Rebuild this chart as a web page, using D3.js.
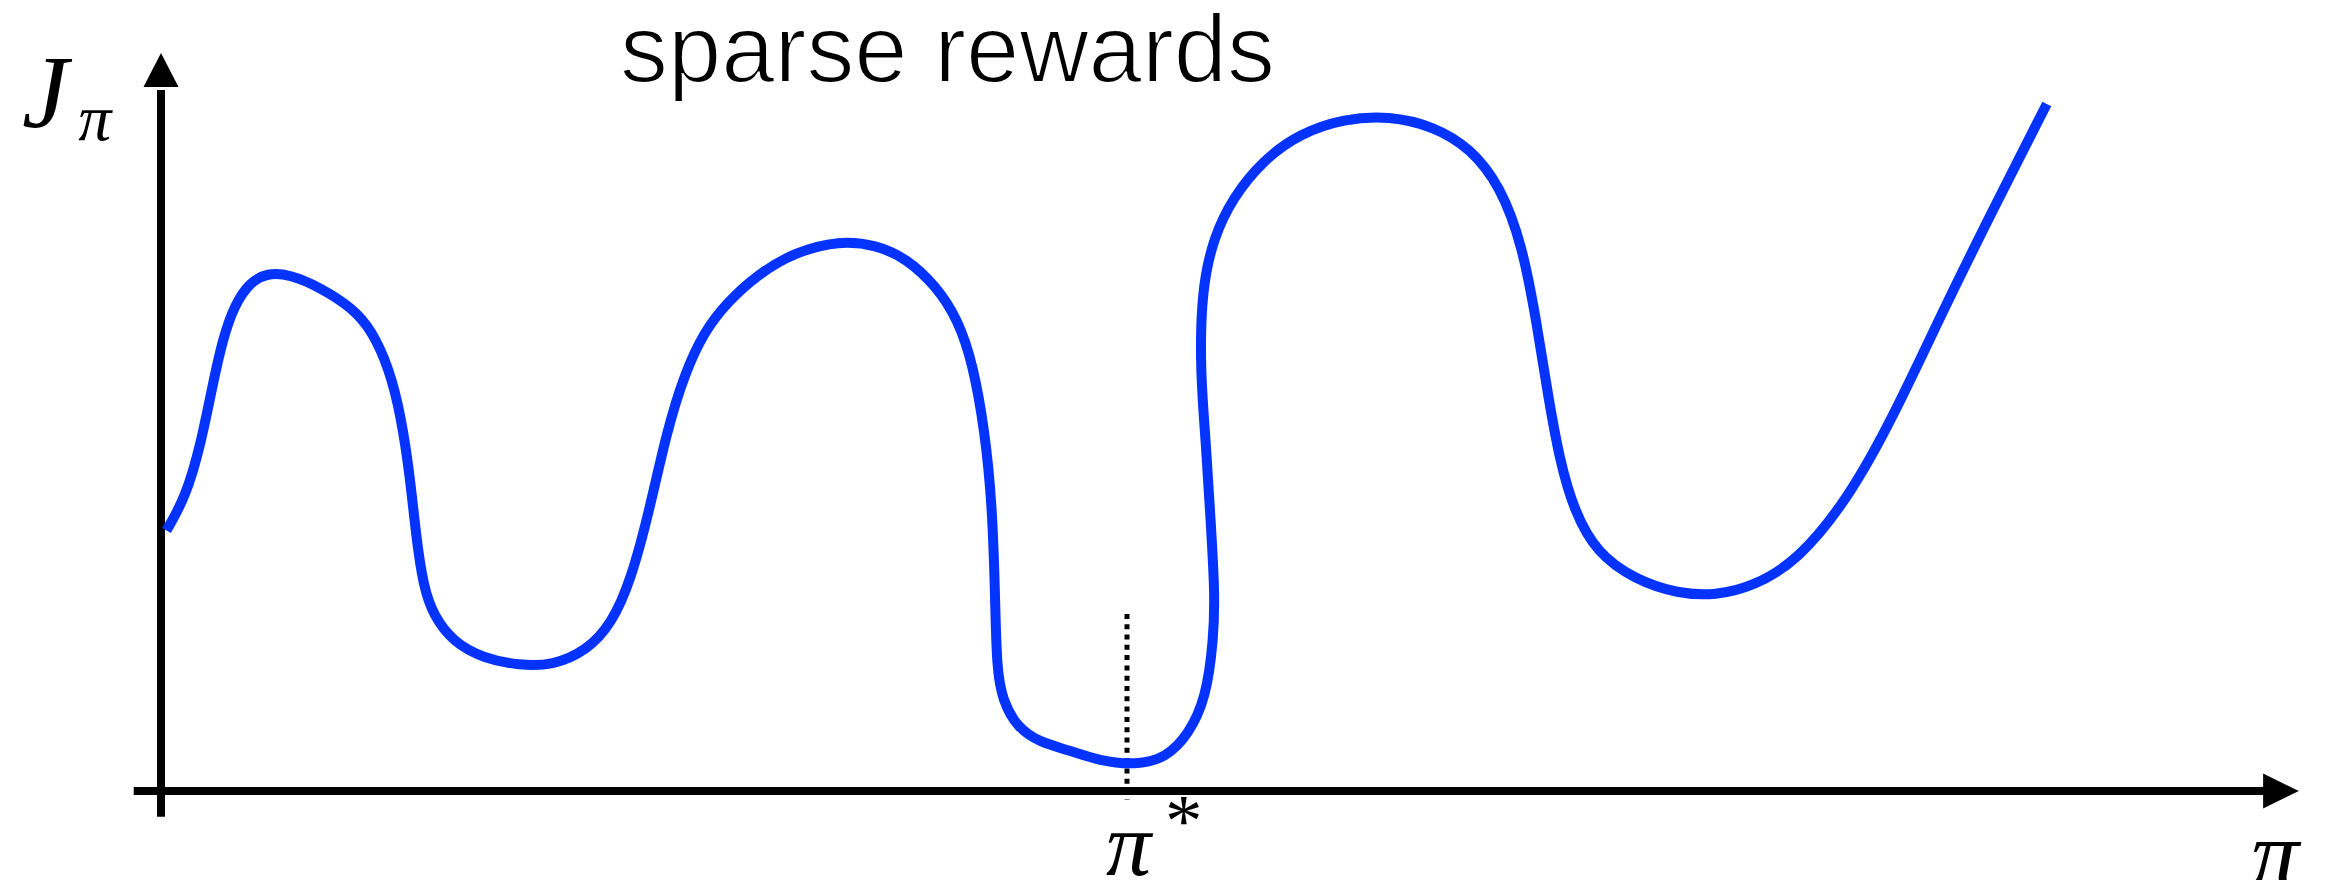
<!DOCTYPE html>
<html>
<head>
<meta charset="utf-8">
<script src="https://cdn.jsdelivr.net/npm/d3@7"></script>
<style>
  html, body { margin: 0; padding: 0; background: #fff; overflow: hidden; }
  svg { display: block; }
</style>
</head>
<body>
<svg id="chart" width="2329" height="880"></svg>
<script>
// Policy coordinate (horizontal) and return J (vertical) along the sketched landscape
const piVals = [0.26, 1.17, 1.88, 2.45, 2.94, 3.51, 4.22, 5.06, 6.13, 7.54, 9.10, 10.02, 10.86, 11.43,
  11.85, 12.14, 12.49, 12.99, 13.91, 15.32, 17.09, 18.64, 20.27, 21.47, 22.39, 23.24, 24.09, 24.94,
  25.86, 26.92, 28.41, 30.17, 32.30, 34.06, 35.48, 36.89, 37.95, 38.66, 39.23, 39.58, 39.72, 39.79,
  40.08, 40.78, 41.84, 43.26, 44.67, 46.44, 47.86, 48.92, 49.77, 50.12, 50.19, 49.98, 49.77, 49.48,
  49.55, 50.12, 51.04, 52.45, 54.22, 56.34, 58.47, 60.59, 62.36, 63.77, 64.83, 65.54, 66.03, 66.60,
  67.31, 68.37, 70.14, 72.26, 74.03, 75.79, 77.92, 80.39, 82.51, 84.99, 87.46, 89.80];
const jVals = [35.3, 39.8, 46.8, 54.9, 61.3, 65.9, 68.9, 70.2, 70.0, 68.3, 65.5, 62.5, 57.3, 50.8,
  42.8, 34.7, 27.7, 23.7, 20.2, 18.0, 17.0, 17.0, 19.0, 22.7, 28.7, 37.8, 48.8, 56.6,
  62.2, 66.1, 70.0, 73.0, 74.6, 74.0, 72.2, 68.5, 63.9, 57.9, 48.8, 38.8, 26.7, 16.6,
  12.2, 8.6, 6.6, 5.5, 4.1, 3.5, 4.5, 7.6, 12.6, 20.6, 26.7, 36.7, 46.8, 56.9,
  67.9, 75.0, 80.4, 85.4, 89.1, 91.1, 91.5, 90.1, 87.1, 82.0, 74.0, 62.9, 53.9, 44.8,
  37.8, 32.3, 28.7, 26.7, 26.5, 27.7, 31.1, 39.8, 50.8, 65.9, 80.0, 93.1];

// Optimal policy marker position and its dotted guide extent
const optimumPi = [46.0];
const guideJ = [24.0, -1.2];

// Axis labels and title
const titleText = ["sparse rewards"];
const yLabel = ["J", "π"];
const xLabel = ["π"];
const optimumLabel = ["π", "*"];

const svg = d3.select("#chart");

const x = d3.scaleLinear().domain([0, 100]).range([161, 2261]);
const y = d3.scaleLinear().domain([0, 100]).range([791, 53]);

const axisColor = "#000";
const curveColor = "#0433ff";

// Y axis with arrow head
svg.append("line")
  .attr("x1", x(0)).attr("x2", x(0))
  .attr("y1", y(-3.5)).attr("y2", y(95))
  .attr("stroke", axisColor).attr("stroke-width", 8);
svg.append("path")
  .attr("d", `M${x(0)},${y(100)} L${x(0) + 17.5},${y(95.4)} L${x(0) - 17.5},${y(95.4)} Z`)
  .attr("fill", axisColor);

// X axis with arrow head
svg.append("line")
  .attr("x1", x(-1.3)).attr("x2", x(100.2))
  .attr("y1", y(0)).attr("y2", y(0))
  .attr("stroke", axisColor).attr("stroke-width", 8);
svg.append("path")
  .attr("d", `M${x(101.8)},${y(0)} L${x(100.1)},${y(0) - 17.5} L${x(100.1)},${y(0) + 17.5} Z`)
  .attr("fill", axisColor);

// Dotted guide at the optimum
svg.append("line")
  .attr("x1", x(optimumPi[0])).attr("x2", x(optimumPi[0]))
  .attr("y1", y(guideJ[0])).attr("y2", y(guideJ[1]))
  .attr("stroke", axisColor).attr("stroke-width", 5)
  .attr("stroke-dasharray", "5,5.3");

// Objective landscape curve
const pts = piVals.map((p, i) => [p, jVals[i]]);
const line = d3.line()
  .x(d => x(d[0])).y(d => y(d[1]))
  .curve(d3.curveBasis);
svg.append("path")
  .datum(pts)
  .attr("d", line)
  .attr("fill", "none")
  .attr("stroke", curveColor)
  .attr("stroke-width", 10)
  .attr("stroke-linecap", "butt")
  .attr("stroke-linejoin", "round");

// Title (thin white outline gives a lighter stroke weight)
svg.append("text")
  .attr("x", 620).attr("y", 82)
  .attr("font-family", "Liberation Sans, Helvetica, Arial, sans-serif")
  .attr("font-size", 96)
  .attr("textLength", 655)
  .attr("lengthAdjust", "spacingAndGlyphs")
  .attr("fill", "#000")
  .attr("stroke", "#fff")
  .attr("stroke-width", 2)
  .text(titleText[0]);

const serif = "Liberation Serif, Times New Roman, serif";

// J_pi label
const jl = svg.append("text")
  .attr("x", 22).attr("y", 127)
  .attr("font-family", serif).attr("font-style", "italic")
  .attr("fill", "#000");
jl.append("tspan").attr("font-size", 104).text(yLabel[0]);
jl.append("tspan").attr("font-size", 66).attr("dx", 10).attr("dy", 13).text(yLabel[1]);

// pi* label under the optimum
const ol = svg.append("text")
  .attr("x", 1106).attr("y", 875)
  .attr("font-family", serif).attr("fill", "#000");
ol.append("tspan").attr("font-size", 90).attr("font-style", "italic").text(optimumLabel[0]);
ol.append("tspan").attr("font-size", 75).attr("dx", 14).attr("dy", -29).text(optimumLabel[1]);

// pi label at the end of the horizontal axis
svg.append("text")
  .attr("x", 2251).attr("y", 886)
  .attr("font-family", serif).attr("font-style", "italic")
  .attr("font-size", 96).attr("fill", "#000")
  .text(xLabel[0]);
</script>
</body>
</html>
